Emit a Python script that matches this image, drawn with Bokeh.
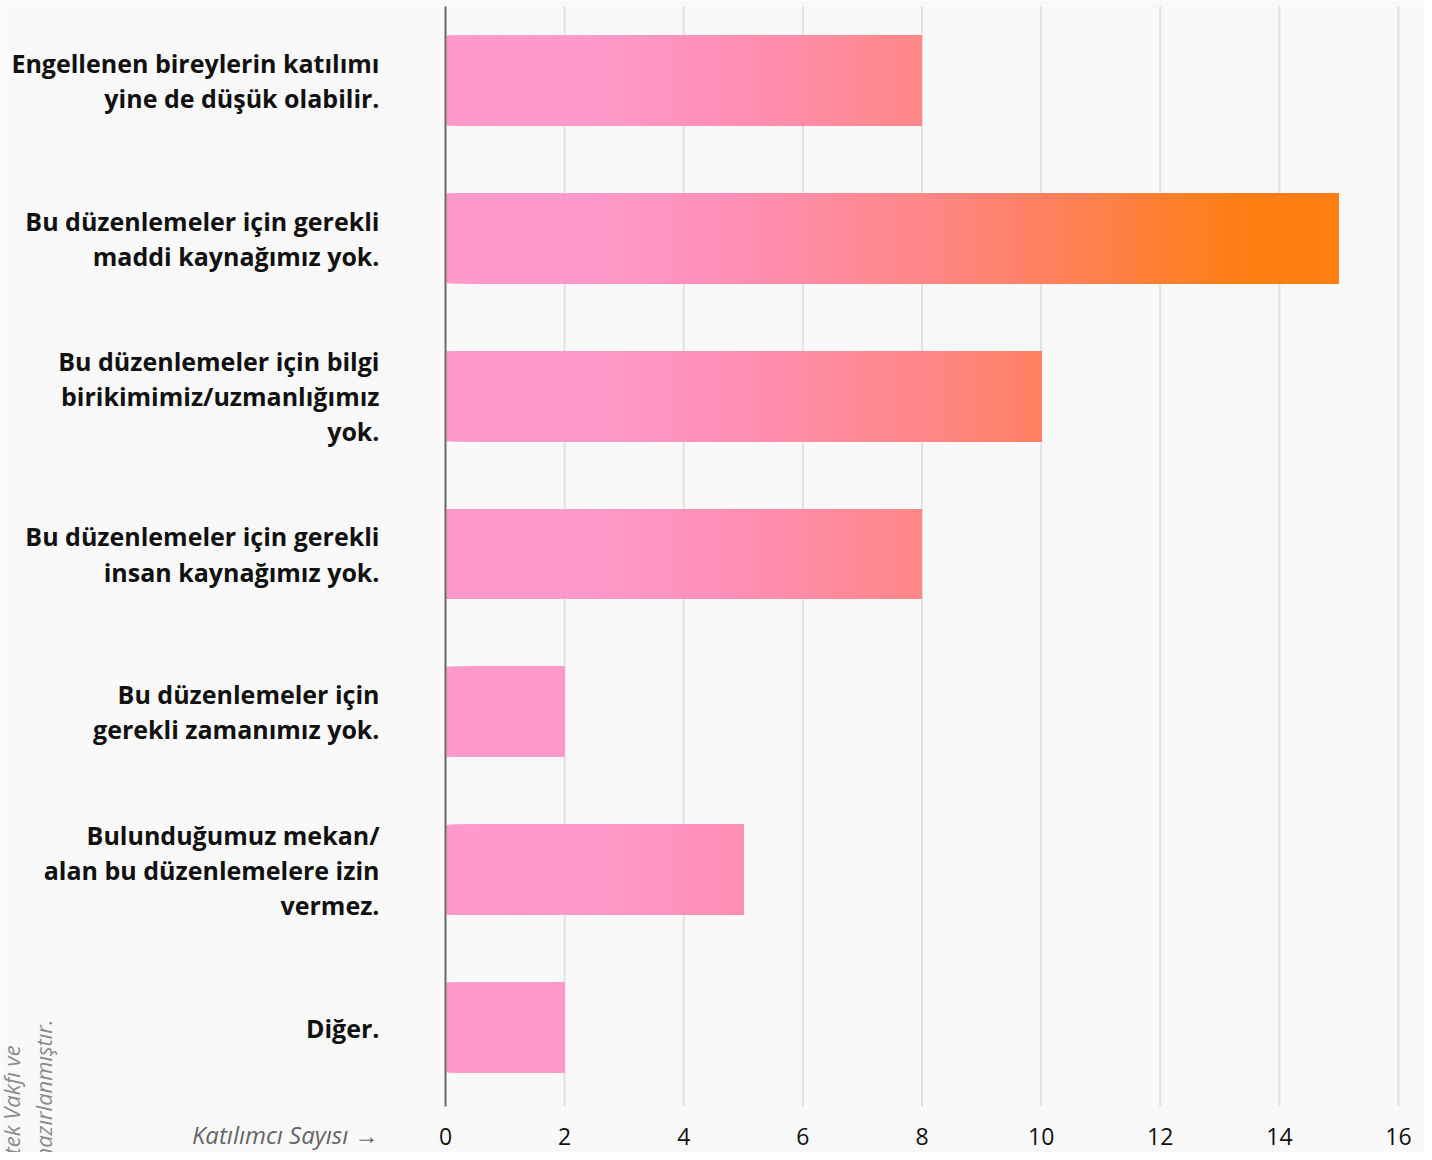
import numpy as np
from bokeh.plotting import figure
from bokeh.models import Range1d, ColumnDataSource
from bokeh.core.properties import value
from bokeh.embed import file_html
from bokeh.resources import INLINE

# ---- data ----
categories = [
    "Engellenen bireylerin katılımı\nyine de düşük olabilir.",
    "Bu düzenlemeler için gerekli\nmaddi kaynağımız yok.",
    "Bu düzenlemeler için bilgi\nbirikimimiz/uzmanlığımız\nyok.",
    "Bu düzenlemeler için gerekli\ninsan kaynağımız yok.",
    "Bu düzenlemeler için\ngerekli zamanımız yok.",
    "Bulunduğumuz mekan/\nalan bu düzenlemelere izin\nvermez.",
    "Diğer.",
]
values = [8, 15, 10, 8, 2, 5, 2]
x_ticks = [0, 2, 4, 6, 8, 10, 12, 14, 16]
x_title = "Katılımcı Sayısı →"
source_lines = ["tek Vakfı ve", "hazırlanmıştır."]

# ---- gradient colour stops (value -> rgb) ----
stop_x = [2.4, 5.0, 8.0, 10.0, 13.3]
stop_rgb = np.array([
    [255, 153, 204],
    [255, 142, 180],
    [255, 135, 135],
    [255, 128, 98],
    [255, 127, 20],
], dtype=float)


def grad_color(v):
    r = np.interp(v, stop_x, stop_rgb[:, 0])
    g = np.interp(v, stop_x, stop_rgb[:, 1])
    b = np.interp(v, stop_x, stop_rgb[:, 2])
    return "#%02x%02x%02x" % (int(round(r)), int(round(g)), int(round(b)))


BG = "#f9f9f9"
FONT = value("Open Sans")

W, H = 1424, 1152
# layout in pixels
X0_PX, X16_PX = 445.0, 1398.0          # value 0 and value 16
SLOT_TOP_PX, SLOT_BOT_PX = 1.0, 1106.0  # category band
GRID_TOP_PX = 6.0
xs = (X16_PX - X0_PX) / 16.0            # px per unit
n = len(categories)
ys = (SLOT_BOT_PX - SLOT_TOP_PX) / n    # px per category slot


def px_x(px):
    return (px - X0_PX) / xs


def px_y(px):
    return (px - SLOT_TOP_PX) / ys


p = figure(
    width=W, height=H,
    x_range=Range1d(px_x(0), px_x(W)),
    y_range=Range1d(px_y(H), px_y(0)),   # reversed: slot index grows downward
    output_backend="svg", toolbar_location=None,
    min_border=0,
)
p.background_fill_color = BG
p.border_fill_color = BG
p.outline_line_color = None
p.axis.visible = False
p.grid.visible = False

grid_top = px_y(GRID_TOP_PX)
slot_bot = float(n)
centers = [i + 0.5 for i in range(n)]

# vertical grid lines at the ticks
p.segment(x0=x_ticks, x1=x_ticks, y0=[grid_top] * len(x_ticks),
          y1=[slot_bot] * len(x_ticks), line_color="#e2e2e2", line_width=2)

# gradient bars: slices drawn left to right, each reaching the bar end
step = 0.05
by, lefts, rights, cols = [], [], [], []
for c, val in zip(centers, values):
    k = int(round(val / step))
    for i in range(k):
        x0 = i * step
        by.append(c)
        lefts.append(x0)
        rights.append(val)
        cols.append(grad_color(x0 + step / 2))
src = ColumnDataSource(dict(y=by, left=lefts, right=rights, color=cols))
p.hbar(y="y", left="left", right="right", height=0.57, fill_color="color",
       line_color=None, source=src)

# value axis line at 0
p.segment(x0=[0], x1=[0], y0=[grid_top], y1=[slot_bot],
          line_color="#6e6e6e", line_width=2)

# category labels
p.text(x=[px_x(379)] * n, y=centers, text=categories, text_align="right",
       text_baseline="middle", text_font=FONT, text_font_style="bold",
       text_font_size="25px", text_color="#111111", text_line_height=1.03)

# tick labels
tick_y = px_y(1136)
p.text(x=x_ticks, y=[tick_y] * len(x_ticks), text=[str(t) for t in x_ticks],
       text_align="center", text_baseline="middle", text_font=FONT,
       text_font_size="23px", text_color="#111111")

# x title
p.text(x=[px_x(378)], y=[px_y(1134)], text=[x_title], text_align="right",
       text_baseline="middle", text_font=FONT, text_font_style="italic",
       text_font_size="24px", text_color="#666666")

# rotated source note (cut by the page edges, as in the original)
p.text(x=[px_x(10), px_x(42)], y=[px_y(1154), px_y(1160)], text=source_lines,
       angle=np.pi / 2, text_align="left", text_baseline="alphabetic",
       text_font=FONT, text_font_style="italic", text_font_size="22px",
       text_color="#8c8c8c")

open("out.html", "w").write(file_html(p, INLINE))
